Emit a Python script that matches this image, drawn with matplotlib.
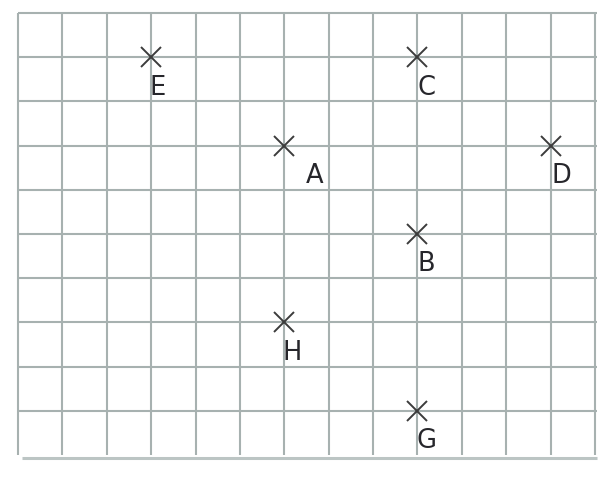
import matplotlib.pyplot as plt

# grid size (cells)
n_cols = 13
n_rows = 10

# points: label, column, row (row counted from top)
labels = ['E', 'C', 'A', 'D', 'B', 'H', 'G']
cols = [3, 9, 6, 12, 9, 6, 9]
rows = [1, 1, 3, 3, 5, 7, 9]
label_dx = [0, 1, 23, 2, 1, 0, 0]  # label shift to the right, in px

grid_color = '#a7b1b0'
mark_color = '#3c3c3c'
text_color = '#26262b'

fig = plt.figure(figsize=(6.16, 4.8), dpi=100)
ax = fig.add_axes([18 / 616, 1 - 455 / 480, 577 / 616, 442 / 480])
ax.set_xlim(0, n_cols)
ax.set_ylim(n_rows, 0)
ax.axis('off')

# grid
ax.vlines(range(n_cols + 1), 0, n_rows, color=grid_color, lw=1.5, clip_on=False)
ax.hlines(range(n_rows), 0, n_cols + 0.05, color=grid_color, lw=1.5, clip_on=False)
# bottom ruler line
ax.hlines(n_rows + 0.07, 0.09, n_cols + 0.05, color='#bcc5c4', lw=2.2, clip_on=False)

# crosses + labels
ax.plot(cols, rows, linestyle='none', marker='x', markersize=14,
        markeredgewidth=1.4, color=mark_color, clip_on=False, zorder=3)
for lab, c, r, dx in zip(labels, cols, rows, label_dx):
    ax.annotate(lab, (c, r), xytext=(dx * 0.72 - 1.0, -12.5), textcoords='offset points',
                ha='left', va='top', fontsize=18.5, color=text_color)

fig.savefig('out.png', dpi=100)
